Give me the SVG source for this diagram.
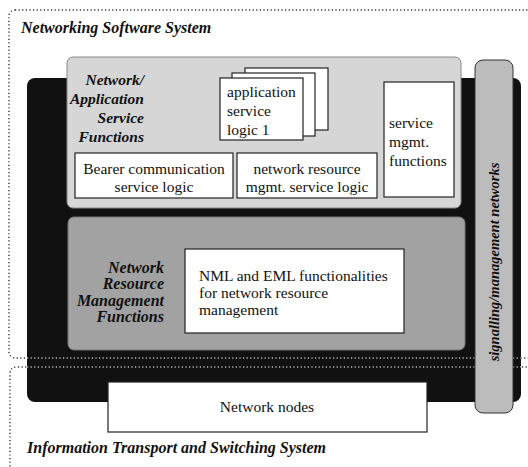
<svg xmlns="http://www.w3.org/2000/svg" width="528" height="467" viewBox="0 0 528 467">
<defs>
<style>
.t{font-family:"Liberation Serif","Times New Roman",serif;font-size:15.5px;fill:#111}
.bi{font-family:"Liberation Serif","Times New Roman",serif;font-weight:bold;font-style:italic;fill:#111}
.box{fill:#fff;stroke:#222;stroke-width:1.2}
.dot{fill:none;stroke:#333;stroke-width:1.4;stroke-dasharray:1.2 2.4}
.dotl{fill:none;stroke:#bbb;stroke-width:1.4;stroke-dasharray:1.2 2.4}
</style>
</defs>
<rect width="528" height="467" fill="#fff"/>
<g id="system-boxes">
<rect class="dot" x="9" y="10" width="540" height="348" rx="6"/>
<path class="dot" d="M10,470 V374 Q10,367 17,367 H540"/>
<text class="bi" x="21" y="33" font-size="16">Networking Software System</text>
<text class="bi" x="27" y="453" font-size="16">Information Transport and Switching System</text>
</g>
<g id="dark-band">
<rect x="27" y="78" width="494" height="324" rx="8" fill="#111"/>
<line class="dotl" x1="27" y1="358" x2="521" y2="358"/>
<line class="dotl" x1="27" y1="367" x2="521" y2="367"/>
</g>
<g id="side-bar">
<rect x="475" y="60" width="38" height="353" rx="8" fill="#bcbcbc" stroke="#333" stroke-width="1"/>
<text class="bi" font-size="14.5" text-anchor="middle" transform="translate(499,262) rotate(-90)">signalling/management networks</text>
</g>
<g id="service-functions">
<rect x="67" y="57" width="394" height="151" rx="6" fill="#d6d6d6" stroke="#888" stroke-width="1"/>
<text class="bi" font-size="15.5" text-anchor="end"><tspan x="144" y="85">Network/</tspan><tspan x="144" y="104">Application</tspan><tspan x="144" y="123">Service</tspan><tspan x="144" y="142">Functions</tspan></text>
</g>
<g id="app-logic">
<rect class="box" x="245" y="68" width="83" height="62"/>
<rect class="box" x="232" y="73" width="83" height="63"/>
<rect class="box" x="220" y="78" width="83" height="62"/>
<text class="t"><tspan x="227" y="97">application</tspan><tspan x="227" y="116">service</tspan><tspan x="227" y="135">logic 1</tspan></text>
</g>
<g id="service-mgmt">
<rect class="box" x="384" y="82" width="70" height="115"/>
<text class="t"><tspan x="389" y="128">service</tspan><tspan x="389" y="147">mgmt.</tspan><tspan x="389" y="166">functions</tspan></text>
</g>
<g id="bearer">
<rect class="box" x="75" y="153" width="158" height="45"/>
<text class="t" text-anchor="middle"><tspan x="154" y="174">Bearer communication</tspan><tspan x="154" y="192">service logic</tspan></text>
</g>
<g id="net-resource-logic">
<rect class="box" x="237" y="153" width="140" height="45"/>
<text class="t" text-anchor="middle"><tspan x="307" y="174">network resource</tspan><tspan x="307" y="192">mgmt. service logic</tspan></text>
</g>
<g id="resource-mgmt">
<rect x="68" y="217" width="397" height="133" rx="6" fill="#a2a2a2" stroke="#777" stroke-width="1"/>
<text class="bi" font-size="16" text-anchor="end"><tspan x="164" y="273">Network</tspan><tspan x="164" y="289">Resource</tspan><tspan x="164" y="306">Management</tspan><tspan x="164" y="322">Functions</tspan></text>
</g>
<g id="nml-eml">
<rect class="box" x="185" y="249" width="219" height="84"/>
<text class="t" font-size="15.3"><tspan x="199" y="281">NML and EML functionalities</tspan><tspan x="199" y="298">for network resource</tspan><tspan x="199" y="315">management</tspan></text>
</g>
<g id="network-nodes">
<rect class="box" x="108" y="382" width="319" height="50"/>
<text class="t" x="267" y="412" text-anchor="middle">Network nodes</text>
</g>
<g id="connectors"></g>
</svg>
